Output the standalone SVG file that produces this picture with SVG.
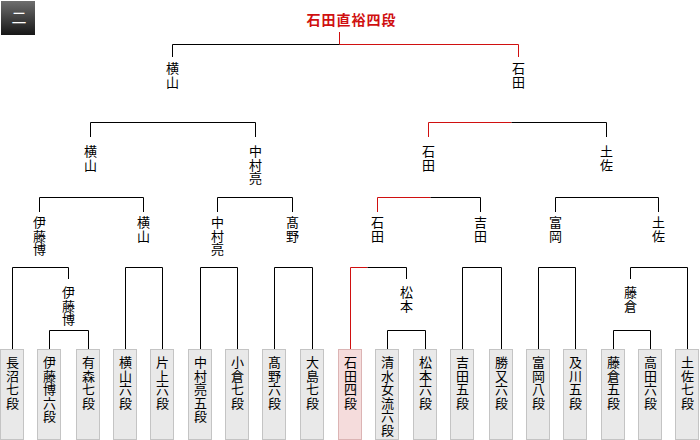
<svg xmlns="http://www.w3.org/2000/svg" width="700" height="440" viewBox="0 0 700 440">
<style>
.t{font-family:"Noto Sans CJK JP","Noto Sans CJK SC",sans-serif;font-size:13px;fill:#000;writing-mode:vertical-rl;letter-spacing:0.5px;glyph-orientation-vertical:0}
.title{font-family:"Noto Sans CJK JP","Noto Sans CJK SC",sans-serif;font-size:14px;font-weight:bold;fill:#d01010;text-anchor:middle;letter-spacing:1px}
.box{fill:#e9e9e9;stroke:#c4c4c4;stroke-width:1}
.win{fill:#f5dcdc;stroke:#dcb4b4;stroke-width:1}
.k{fill:none;stroke:#000;stroke-width:1}
.r{fill:none;stroke:#d01010;stroke-width:1}
</style>
<defs>
<linearGradient id="bg" x1="0" y1="0" x2="0" y2="1">
<stop offset="0" stop-color="#6e6e6e"/>
<stop offset="1" stop-color="#161616"/>
</linearGradient>
</defs>
<g id="badge">
<rect x="1" y="1" width="34" height="34" fill="url(#bg)"/>
<text x="19" y="22.5" style="font-family:'Noto Sans CJK JP',sans-serif;font-size:15px;fill:#fff;text-anchor:middle">二</text>
</g>
<g id="connectors">
<path class="r" d="M339.5 32V44.5H518.5V57"/>
<path class="k" d="M339.5 44.5H172.5V57"/>
<path class="k" d="M90.5 137V122.5H255.5V137"/>
<path class="r" d="M428.5 137V122.5H511.5"/>
<path class="k" d="M511.5 122.5H606.5V137"/>
<path class="k" d="M39.5 212V197.5H143.5V212"/>
<path class="k" d="M217.5 212V197.5H292.5V212"/>
<path class="r" d="M377.5 212V197.5H430.5"/>
<path class="k" d="M430.5 197.5H480.5V212"/>
<path class="k" d="M555.5 212V197.5H658.5V212"/>
<path class="k" d="M12.5 349V267.5H68.5V279"/>
<path class="k" d="M49.5 349V330.5H88.5V349"/>
<path class="k" d="M125.5 349V267.5H162.5V349"/>
<path class="k" d="M200.5 349V267.5H237.5V349"/>
<path class="k" d="M274.5 349V267.5H312.5V349"/>
<path class="r" d="M350.5 349V267.5H367.5"/>
<path class="k" d="M367.5 267.5H406.5V279"/>
<path class="k" d="M387.5 349V330.5H425.5V349"/>
<path class="k" d="M462.5 349V267.5H501.5V349"/>
<path class="k" d="M538.5 349V267.5H575.5V349"/>
<path class="k" d="M630.5 279V267.5H687.5V349"/>
<path class="k" d="M613.5 349V330.5H650.5V349"/>
</g>
<g id="title"><text class="title" x="351.5" y="25">石田直裕四段</text></g>
<g id="w-top-yokoyama"><text class="t" x="172.5" y="62">横山</text></g>
<g id="w-top-ishida"><text class="t" x="518.5" y="62">石田</text></g>
<g id="w3-yokoyama"><text class="t" x="90.5" y="145">横山</text></g>
<g id="w3-nakamura"><text class="t" x="255.5" y="145">中村亮</text></g>
<g id="w3-ishida"><text class="t" x="428.5" y="145">石田</text></g>
<g id="w3-tosa"><text class="t" x="606.5" y="145">土佐</text></g>
<g id="w2-ito"><text class="t" x="39.5" y="216">伊藤博</text></g>
<g id="w2-yokoyama"><text class="t" x="143.5" y="216">横山</text></g>
<g id="w2-nakamura"><text class="t" x="217.5" y="216">中村亮</text></g>
<g id="w2-takano"><text class="t" x="292.5" y="216">髙野</text></g>
<g id="w2-ishida"><text class="t" x="377.5" y="216">石田</text></g>
<g id="w2-yoshida"><text class="t" x="480.5" y="216">吉田</text></g>
<g id="w2-tomioka"><text class="t" x="555.5" y="216">富岡</text></g>
<g id="w2-tosa"><text class="t" x="658.5" y="216">土佐</text></g>
<g id="w1-ito"><text class="t" x="68.5" y="286">伊藤博</text></g>
<g id="w1-matsumoto"><text class="t" x="406.5" y="286">松本</text></g>
<g id="w1-fujikura"><text class="t" x="630.5" y="286">藤倉</text></g>
<g id="p1"><rect class="box" x="0.5" y="349.5" width="23" height="90"/><text class="t" x="12.5" y="356">長沼七段</text></g>
<g id="p2"><rect class="box" x="37.5" y="349.5" width="23" height="90"/><text class="t" x="49.5" y="356">伊藤博六段</text></g>
<g id="p3"><rect class="box" x="76.5" y="349.5" width="23" height="90"/><text class="t" x="88.5" y="356">有森七段</text></g>
<g id="p4"><rect class="box" x="113.5" y="349.5" width="23" height="90"/><text class="t" x="125.5" y="356">横山六段</text></g>
<g id="p5"><rect class="box" x="150.5" y="349.5" width="23" height="90"/><text class="t" x="162.5" y="356">片上六段</text></g>
<g id="p6"><rect class="box" x="188.5" y="349.5" width="23" height="90"/><text class="t" x="200.5" y="356">中村亮五段</text></g>
<g id="p7"><rect class="box" x="225.5" y="349.5" width="23" height="90"/><text class="t" x="237.5" y="356">小倉七段</text></g>
<g id="p8"><rect class="box" x="262.5" y="349.5" width="23" height="90"/><text class="t" x="274.5" y="356">髙野六段</text></g>
<g id="p9"><rect class="box" x="300.5" y="349.5" width="23" height="90"/><text class="t" x="312.5" y="356">大島七段</text></g>
<g id="p10"><rect class="win" x="338.5" y="349.5" width="23" height="90"/><text class="t" x="350.5" y="356">石田四段</text></g>
<g id="p11"><rect class="box" x="375.5" y="349.5" width="23" height="90"/><text class="t" x="387.5" y="356">清水女流六段</text></g>
<g id="p12"><rect class="box" x="413.5" y="349.5" width="23" height="90"/><text class="t" x="425.5" y="356">松本六段</text></g>
<g id="p13"><rect class="box" x="450.5" y="349.5" width="23" height="90"/><text class="t" x="462.5" y="356">吉田五段</text></g>
<g id="p14"><rect class="box" x="489.5" y="349.5" width="23" height="90"/><text class="t" x="501.5" y="356">勝又六段</text></g>
<g id="p15"><rect class="box" x="526.5" y="349.5" width="23" height="90"/><text class="t" x="538.5" y="356">富岡八段</text></g>
<g id="p16"><rect class="box" x="563.5" y="349.5" width="23" height="90"/><text class="t" x="575.5" y="356">及川五段</text></g>
<g id="p17"><rect class="box" x="601.5" y="349.5" width="23" height="90"/><text class="t" x="613.5" y="356">藤倉五段</text></g>
<g id="p18"><rect class="box" x="638.5" y="349.5" width="23" height="90"/><text class="t" x="650.5" y="356">高田六段</text></g>
<g id="p19"><rect class="box" x="675.5" y="349.5" width="23" height="90"/><text class="t" x="687.5" y="356">土佐七段</text></g>
</svg>
